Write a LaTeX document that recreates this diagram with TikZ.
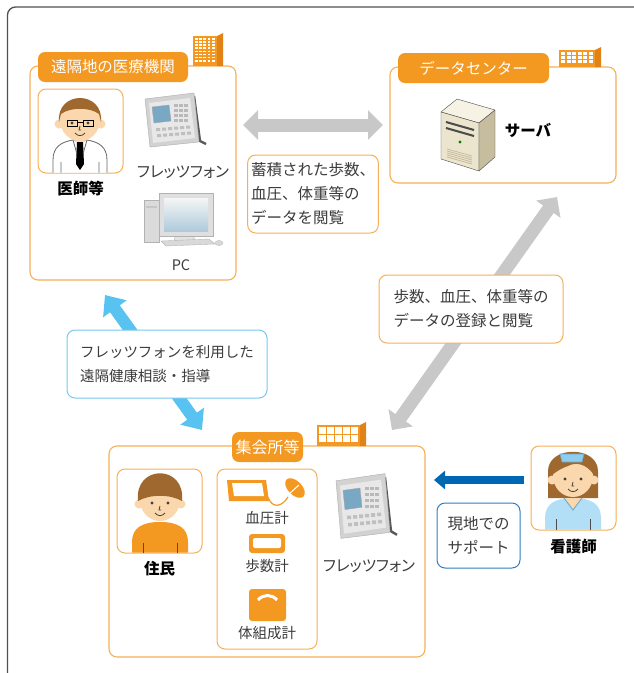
\documentclass[tikz,border=0pt]{standalone}
\usepackage{fontspec}
\setmainfont{Noto Sans CJK JP}
\newfontfamily\kanafont[RawFeature=+palt]{Noto Sans CJK JP}
\usetikzlibrary{arrows.meta,positioning}

\definecolor{orangefill}{RGB}{243,152,33}
\definecolor{orangedark}{RGB}{224,130,22}
\definecolor{orangeline}{RGB}{246,176,88}
\definecolor{arrowgray}{RGB}{200,200,200}
\definecolor{skyblue}{RGB}{88,194,240}
\definecolor{noteblue}{RGB}{120,200,238}
\definecolor{deepblue}{RGB}{0,104,178}
\definecolor{supportblue}{RGB}{50,125,190}
\definecolor{textgray}{RGB}{60,60,60}
\definecolor{framegray}{RGB}{80,80,80}
\definecolor{skin}{RGB}{250,215,172}
\definecolor{hair}{RGB}{158,104,46}
\definecolor{uniform}{RGB}{178,222,246}
\definecolor{capblue}{RGB}{140,205,240}
\definecolor{screenblue}{RGB}{120,168,196}
\definecolor{beige}{RGB}{236,229,206}
\definecolor{beigedark}{RGB}{198,188,158}
\definecolor{beigelight}{RGB}{246,242,228}

\def\r{8pt}
% left, bottom, width, height, columns, rows
\def\building#1#2#3#4#5#6{%
	\fill[orangefill] (#1,#2) rectangle ++(#3,-#4);
	\fill[orangedark] (#1+#3,#2) -- ++(6,0) -- ++(0,-#4-3) -- (#1+#3,#2-#4) -- cycle;
	\pgfmathsetmacro\cellw{(#3-3)/#5}
	\pgfmathsetmacro\cellh{(#4-5)/#6}
	\foreach \i in {1,...,#5}
		\foreach \j in {1,...,#6}
			\fill[white] ({#1+2+(\i-1)*\cellw},{#2-#4+2+(\j-1)*\cellh}) rectangle ++({\cellw-1.4},{\cellh-1.4});
}
\tikzset{
	areabox/.style={draw=orangeline, line width=1.1pt, rounded corners=\r, fill=white},
	tabnode/.style={fill=orangefill, rounded corners=7pt, text=white, minimum height=30,
		font=\fontsize{15.5}{18}\selectfont},
	facebox/.style={draw=orangeline, line width=1pt, rounded corners=\r, fill=white,
		minimum width=85, minimum height=84},
	notebox/.style={draw=orangeline, line width=1pt, rounded corners=\r, fill=white,
		align=left, text=textgray, font=\fontsize{15.5}{24}\selectfont},
	caption/.style={text=textgray, font=\fontsize{14.5}{17}\selectfont, inner sep=0},
	who/.style={text=black, font=\bfseries\fontsize{15.5}{18}\selectfont, inner sep=0},
	grayarrow/.style={draw=arrowgray, line width=13pt,
		{Triangle[length=15pt,width=29pt]}-{Triangle[length=15pt,width=29pt]}},
	face/.pic={
		\fill[skin] (-21,4) circle (4.5) (21,4) circle (4.5);
		\fill[skin] (0,0) ellipse (20 and 21);
		\fill[black!75] (-8,3) circle (1.7) (8,3) circle (1.7);
		\draw[black!75, line width=.8pt] (0,6) -- (-1,10) -- (1,10);
		\draw[black!75, line width=.8pt] (-5,13) .. controls (-2,16.5) and (2,16.5) .. (5,13);
	},
	fletsphone/.pic={
		\draw[line width=2.4pt, black!65] (19,-24) -- (25,21) -- (31,24);
		\filldraw[fill=gray!35, draw=gray!65] (-30,-21) -- (19,-27) -- (24,22) -- (-25,27) -- cycle;
		\fill[gray!18] (-26,-17) -- (15,-22) -- (20,18) -- (-22,23) -- cycle;
		\filldraw[fill=screenblue, draw=gray!70] (-23,-13) -- (-6,-15) -- (-4,1) -- (-21,3) -- cycle;
		\foreach \i in {0,1,2}
			\foreach \j in {0,...,3}
				\fill[gray!55] ({-1+5*\i},{-16+5*\j}) rectangle ++(3.5,3);
		\foreach \i in {0,...,5}
			\fill[gray!50] ({-19+6*\i},{8-0.5*\i}) rectangle ++(4,3)
				({-18+6*\i},{14-0.5*\i}) rectangle ++(4,3);
	},
	desktop/.pic={
		\filldraw[fill=gray!28, draw=gray!60] (-37,-20) rectangle (-22,22);
		\fill[gray!45] (-35,-14) rectangle (-24,-12);
		\filldraw[fill=gray!22, draw=gray!60] (-5,14) -- (12,14) -- (14,21) -- (-7,21) -- cycle;
		\filldraw[fill=gray!25, draw=gray!60] (-22,-27) rectangle (32,16);
		\shade[top color=gray!8, bottom color=screenblue!60] (-17,-22) rectangle (27,11);
		\filldraw[fill=gray!30, draw=gray!55] (-20,21) -- (28,19) -- (34,24) -- (-15,26) -- cycle;
		\filldraw[fill=gray!30, draw=gray!55] (38,23) ellipse (4 and 2.5);
	},
}

\begin{document}
\begin{tikzpicture}[x=1pt,y=-1pt]
\useasboundingbox (0,0) rectangle (634,673);
\draw[framegray, line width=1.3pt, rounded corners=8pt] (7.5,673) -- (7.5,7) -- (634,7);

% connectors
\coordinate (viewW) at (243,125);
\coordinate (viewE) at (383,125);
\coordinate (upS) at (392,430);
\coordinate (upN) at (557,197);
\coordinate (consultN) at (105,295);
\coordinate (consultS) at (202,430);
\coordinate (supportE) at (524,480);
\coordinate (supportW) at (434,480);
\draw[grayarrow] (viewW) -- (viewE);
\draw[grayarrow] (upS) -- (upN);
\draw[draw=skyblue, line width=12pt, {Triangle[length=17pt,width=28pt]}-{Triangle[length=17pt,width=28pt]}] (consultN) -- (consultS);
\draw[draw=deepblue, line width=7.5pt, -{Triangle[length=11pt,width=18pt]}] (supportE) -- (supportW);

% sites
\node[areabox, minimum width=206, minimum height=214] (clinic) at (133,173) {};
\node[areabox, minimum width=226, minimum height=116] (datactr) at (503,125) {};
\node[areabox, minimum width=316, minimum height=211] (hall) at (267,551.5) {};
\building{193}{66}{24}{30}{5}{8}
\building{559}{67}{36}{17}{6}{3}
\building{317}{446}{43}{21}{5}{2}
\node[tabnode, minimum width=150] (clinictab) at (113,67) {遠隔地の医療機関};
\node[tabnode, minimum width=151] (dctab) at (473.5,68) {データセンター};
\node[tabnode, minimum width=71, inner xsep=2pt, font=\fontsize{16}{18}\selectfont] (halltab) at (267.5,447) {集会所等};

% people
\node[facebox] (docbox) at (80.5,131) {};
\node[facebox] (resbox) at (159.5,511) {};
\node[facebox] (nursebox) at (573.5,488) {};
\node[facebox, minimum width=100, minimum height=180] (devbox) at (267,559) {};

\begin{scope}[shift={(80,120)}]
	\filldraw[fill=white, draw=black!60, line width=.8pt] (-27,52.5) -- (-27,40) .. controls (-27,27) and (-19,22) .. (-7,20) -- (7,20) .. controls (19,22) and (27,27) .. (27,40) -- (27,52.5);
	\fill[skin] (-5,14) rectangle (5,22);
	\fill[black] (-3,22) -- (3,22) -- (4,44) -- (0,50) -- (-4,44) -- cycle;
	\draw[black!60, line width=.8pt] (-7,20) -- (-3,34) (7,20) -- (3,34) (-19,42) -- (-19,52.5) (19,42) -- (19,52.5);
	\pic {face};
	\fill[hair] (-21,2) .. controls (-24,-30) and (24,-30) .. (21,2) -- (19,-6) .. controls (10,-13) and (-10,-13) .. (-19,-6) -- cycle;
	\draw[black, line width=1pt] (-13,0) rectangle (-3,6) (3,0) rectangle (13,6) (-3,2) -- (3,2);
\end{scope}

\begin{scope}[shift={(160,500)}]
	\fill[orangefill] (-28,52.5) -- (-28,42) .. controls (-28,28) and (-18,22) .. (0,22) .. controls (18,22) and (28,28) .. (28,42) -- (28,52.5) -- cycle;
	\draw[black!70, line width=.8pt] (-17,43) -- (-17,52.5) (17,43) -- (17,52.5);
	\pic {face};
	\fill[hair] (-22,1) .. controls (-26,-36) and (26,-36) .. (22,1) .. controls (10,-6) and (-10,-6) .. cycle;
\end{scope}

\begin{scope}[shift={(573,476)}]
	\fill[hair] (-25,22) -- (-25,-4) .. controls (-26,-31) and (26,-31) .. (25,-4) -- (25,22) -- cycle;
	\fill[uniform] (-28,53.5) -- (-28,42) .. controls (-28,28) and (-18,22) .. (0,22) .. controls (18,22) and (28,28) .. (28,42) -- (28,53.5) -- cycle;
	\fill[skin] (-8,22) -- (0,33) -- (8,22) -- cycle;
	\draw[capblue!80!black, line width=.8pt] (-9,22) -- (0,34) -- (9,22);
	\draw[black!70, line width=.8pt] (-17,43) -- (-17,53.5) (17,43) -- (17,53.5);
	\pic {face};
	\fill[hair] (-21,-1) .. controls (-22,-27) and (21,-27) .. (21,-1) .. controls (13,-13) and (2,-14) .. (-5,-10) .. controls (-11,-8) and (-16,-5) .. cycle;
	\filldraw[fill=capblue, draw=capblue!80!black, line width=.6pt] (-13,-22) -- (11,-22) -- (9,-14) -- (-11,-14) -- cycle;
\end{scope}

% equipment
\pic at (175,120) {fletsphone};
\pic[yscale=1.2] at (366,506) {fletsphone};
\pic at (181,220) {desktop};
\begin{scope}[line join=round]
	\filldraw[fill=beigelight, draw=black!70] (441,112) -- (457,99) -- (495,110) -- (479,123) -- cycle;
	\filldraw[fill=beige, draw=black!70] (441,112) -- (479,123) -- (479,171) -- (441,159) -- cycle;
	\filldraw[fill=beigedark, draw=black!70] (479,123) -- (495,110) -- (495,157) -- (479,171) -- cycle;
	\draw[black!70, line width=2pt] (446,122) -- (474,130) (446,128) -- (474,136);
	\fill[green!50!black] (460,142) circle (1.6);
	\foreach \k in {0,...,4}
		\draw[beigedark, line width=.8pt] (447,{149+2*\k}) -- (472,{156+2*\k});
\end{scope}

\fill[orangefill] (227,480) -- (266,480) -- (269,501) -- (229,501) -- cycle;
\fill[white] (232,483) -- (262,483) -- (264,496) -- (234,496) -- cycle;
\draw[orangefill, line width=1.2pt] (268,497) .. controls (272,509) and (282,507) .. (288,497);
\fill[orangefill, rotate around={-45:(295,488)}] (295,488) ellipse (12 and 7);
\draw[white, line width=1pt] (289,494) -- (299,485);
\fill[orangefill, rounded corners=3pt] (249,534) rectangle (285,553);
\fill[white, rounded corners=2pt] (253,538) rectangle (281,548);
\fill[orangefill, rounded corners=3pt] (249,589) rectangle (286,621);
\draw[white, line width=3pt] (258,600) .. controls (263,594) and (272,594) .. (277,600);

% names and captions
\node[who, below=7pt of docbox] (doctor) {医師等};
\node[who, below=8pt of resbox] (resident) {住民};
\node[who, below=9pt of nursebox] (nurse) {看護師};
\node[who] (server) at (528,130) {サーバ};
\node[caption, font=\kanafont\fontsize{15.5}{17}\selectfont] (phoneA) at (183,172) {フレッツフォン};
\node[caption, font=\kanafont\fontsize{15.5}{17}\selectfont] (phoneB) at (369,566) {フレッツフォン};
\node[caption] (pcname) at (181,265) {PC};
\node[caption] (bpmeter) at (267,518) {血圧計};
\node[caption] (pedometer) at (267,566) {歩数計};
\node[caption] (bodyscale) at (267,633) {体組成計};

% notes over the arrows
\node[notebox, minimum width=130, minimum height=78] (storedview) at (313,194) {蓄積された歩数、\\血圧、体重等の\\データを閲覧};
\node[notebox, minimum width=184, minimum height=68] (register) at (471,309) {歩数、血圧、体重等の\\データの登録と閲覧};
\node[notebox, draw=noteblue, minimum width=200, minimum height=68, font=\fontsize{14.5}{24}\selectfont] (consult) at (167,364) {フレッツフォンを利用した\\遠隔健康相談・指導};
\node[notebox, draw=supportblue, minimum width=83, minimum height=65] (support) at (478.5,535.5) {現地での\\サポート};
\end{tikzpicture}
\end{document}
